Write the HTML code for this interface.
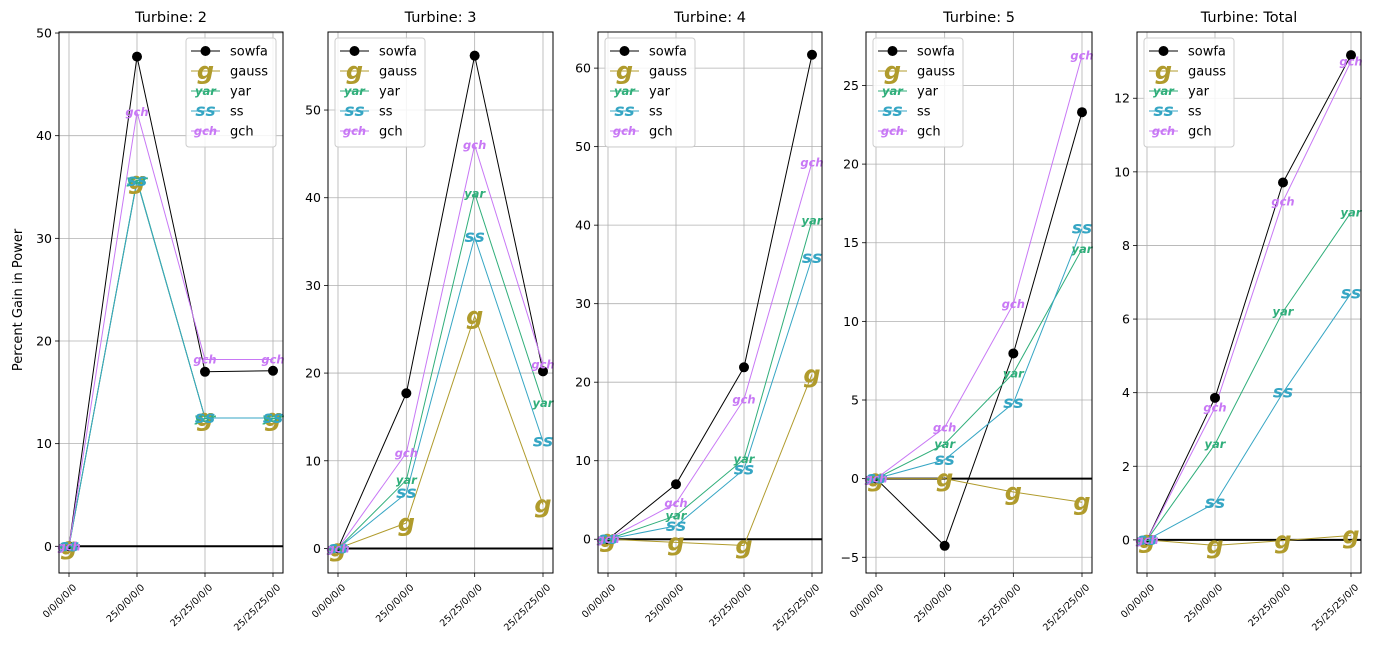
<!DOCTYPE html>
<html><head><meta charset="utf-8">
<style>
body{margin:0;background:#fff;}
svg{display:block;font-family:"DejaVu Sans","Liberation Sans",sans-serif;}
</style></head>
<body>
<svg id="fig" width="1389" height="649" viewBox="0 0 1389 649" xmlns="http://www.w3.org/2000/svg">
<text x="0" y="0" transform="translate(22,300) rotate(-90)" text-anchor="middle" font-size="13">Percent Gain in Power</text>
</svg>
<script>
const categories = ["0/0/0/0/0","25/0/0/0/0","25/25/0/0/0","25/25/25/0/0"];
const seriesNames = ["sowfa","gauss","yar","ss","gch"];
const titles = ["Turbine: 2","Turbine: 3","Turbine: 4","Turbine: 5","Turbine: Total"];
const sowfa = [[0,47.7,17.0,17.1],[0,17.7,56.2,20.2],[0,7.0,21.9,61.7],[0,-4.27,7.96,23.3],[0,3.86,9.71,13.17]];
const gauss = [[0,35.6,12.5,12.5],[0,2.9,26.5,5.0],[0,-0.4,-0.8,21.0],[0,0,-0.85,-1.5],[0,-0.15,-0.02,0.12]];
const yar = [[0,35.7,12.5,12.5],[0,7.8,40.5,16.6],[0,3.0,10.2,40.6],[0,2.2,6.7,14.6],[0,2.6,6.2,8.9]];
const ss = [[0,35.6,12.5,12.5],[0,6.3,35.5,12.2],[0,1.7,8.9,35.8],[0,1.2,4.8,15.9],[0,1.0,4.0,6.7]];
const gch = [[0,42.3,18.2,18.2],[0,10.9,46.0,21.0],[0,4.6,17.8,48.0],[0,3.25,11.1,26.9],[0,3.6,9.2,13.0]];
const yTicks = [[0,10,20,30,40,50],[0,10,20,30,40,50],[0,10,20,30,40,50,60],[-5,0,5,10,15,20,25],[0,2,4,6,8,10,12]];
const yRanges = [[-2.6,50.1],[-2.8,58.9],[-4.3,64.6],[-6.0,28.4],[-0.9,13.8]];
</script>
<script>
const NS="http://www.w3.org/2000/svg";
const svg=document.getElementById('fig');
const panelsX=[[59,283],[328,553],[598,822],[866,1092],[1137,1361]];
const TOP=32,BOT=573;
const colors={sowfa:"#000",gauss:"#b09b2c",yar:"#2fae7a",ss:"#36a6c4",gch:"#c878f5"};
const markTxt={gauss:"g",yar:"yar",ss:"ss",gch:"gch"};
const markSize={gauss:24,yar:11.5,ss:17,gch:11.5};
const allData={sowfa,gauss,yar,ss,gch};
function mk(tag,attrs,parent){const e=document.createElementNS(NS,tag);for(const k in attrs)e.setAttribute(k,attrs[k]);(parent||svg).appendChild(e);return e;}
function drawMarker(g,name,x,y){
  if(name==="sowfa"){const c=mk('circle',{cx:x,cy:y,r:5,fill:"#000"},g);return;}
  const t=mk('text',{x:x,y:y,'text-anchor':'middle','dominant-baseline':'central','font-size':markSize[name],'font-weight':'bold','font-style':'italic',fill:colors[name]},g);
  
  
  t.textContent=markTxt[name];
}
for(let p=0;p<5;p++){
  const [L,R]=panelsX[p];
  const [y0,y1]=yRanges[p];
  const xs=i=>L+10+i*(R-L-20)/(categories.length-1);
  const ys=v=>BOT-(v-y0)/(y1-y0)*(BOT-TOP);
  const g=mk('g',{});
  
  
  const tt=mk('text',{x:(L+R)/2,y:22,'text-anchor':'middle','font-size':14.5},g);
  
  
  tt.textContent=titles[p];
  categories.forEach((c,i)=>{
    mk('line',{x1:xs(i),x2:xs(i),y1:TOP,y2:BOT,stroke:"#b0b0b0","stroke-width":0.8},g);
    mk('line',{x1:xs(i),x2:xs(i),y1:BOT,y2:BOT+4,stroke:"#000","stroke-width":0.8},g);
    const lb=mk('text',{'font-size':9.5,'text-anchor':'end',transform:`translate(${xs(i)+8},${BOT+15}) rotate(-45)`},g);
    
    
    lb.textContent=c;
  });
  yTicks[p].forEach(v=>{
    const y=ys(v);
    mk('line',{x1:L,x2:R,y1:y,y2:y,stroke:"#b0b0b0","stroke-width":0.8},g);
    mk('line',{x1:L-4,x2:L,y1:y,y2:y,stroke:"#000","stroke-width":0.8},g);
    const lb=mk('text',{x:L-7,y:y+4.5,'text-anchor':'end','font-size':12.5},g);
    
    
    lb.textContent=(v<0?"\u2212"+Math.abs(v):v);
  });
  const zl=mk('line',{x1:L,x2:R,y1:ys(0),y2:ys(0),stroke:"#000","stroke-width":2},g);
  
  
  const order=["sowfa","gauss","yar","ss","gch"];
  order.forEach(n=>{
    const d=allData[n][p];
    const pl=mk('polyline',{points:d.map((v,i)=>xs(i)+","+ys(v)).join(" "),fill:"none",stroke:colors[n],"stroke-width":1},g);
    
    
  });
  order.forEach(n=>{allData[n][p].forEach((v,i)=>drawMarker(g,n,xs(i),ys(v)));});
  const fr=mk('rect',{x:L,y:TOP,width:R-L,height:BOT-TOP,fill:"none",stroke:"#000","stroke-width":1},g);
  
  
  const lx=p===0?R-97:L+7, ly=TOP+6;
  const lg=mk('g',{},g);
  
  
  mk('rect',{x:lx,y:ly,width:90,height:109,rx:3,fill:"#fff","fill-opacity":0.85,stroke:"#ccc","stroke-width":1},lg);
  seriesNames.forEach((n,k)=>{
    const ry=ly+13+k*20;
    const e=mk('g',{},lg);
    
    
    mk('line',{x1:lx+5,x2:lx+34,y1:ry,y2:ry,stroke:colors[n],"stroke-width":1},e);
    drawMarker(e,n,lx+19.5,ry);
    const t=mk('text',{x:lx+44,y:ry+4.5,'font-size':13},e);
    t.textContent=n;
  });
}
</script>
</body></html>
